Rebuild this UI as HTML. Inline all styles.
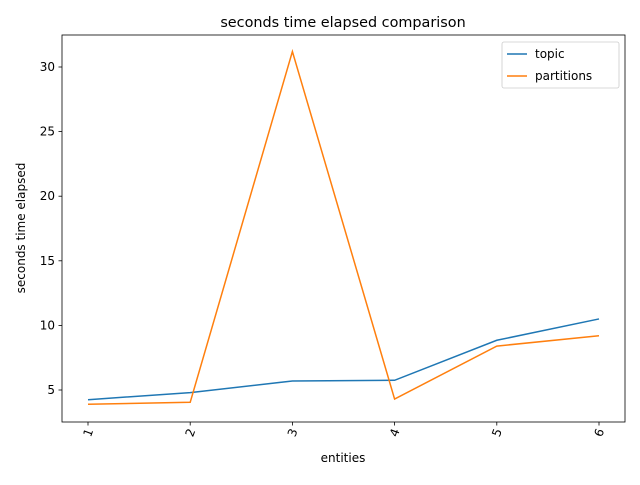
<!DOCTYPE html>
<html><head><meta charset="utf-8"><style>
body{margin:0;background:#fff}
svg text{font-family:"DejaVu Sans","Liberation Sans",sans-serif;fill:#000}
</style></head><body>
<svg width="640" height="480" viewBox="0 0 640 480">
<rect x="0" y="0" width="640" height="480" fill="#fff"/>
<text x="343" y="27" font-size="14.4" text-anchor="middle">seconds time elapsed comparison</text>
<g id="grid"></g>
<g id="series"></g>
<rect x="62" y="35" width="563" height="387" fill="none" stroke="#000" stroke-width="0.8"/>
<g id="axes"></g>
<text x="343" y="462" font-size="12" text-anchor="middle">entities</text>
<text transform="translate(25,228) rotate(-90)" font-size="12" text-anchor="middle">seconds time elapsed</text>
<g>
<rect x="502" y="42" width="117" height="46" rx="2" fill="#fff" fill-opacity="0.8" stroke="#ccc" stroke-width="0.8"/>
<line x1="507" y1="54" x2="527" y2="54" stroke="#1f77b4" stroke-width="1.5"/>
<text x="535" y="58" font-size="12">topic</text>
<line x1="507" y1="76" x2="527" y2="76" stroke="#ff7f0e" stroke-width="1.5"/>
<text x="535" y="80" font-size="12">partitions</text>
</g>
</svg>
<script>
const categories=[1,2,3,4,5,6];
const topicValues=[4.25,4.8,5.7,5.75,8.85,10.5];
const partitionValues=[3.9,4.05,31.2,4.3,8.4,9.2];
const yTicks=[5,10,15,20,25,30];
const NS="http://www.w3.org/2000/svg";
function xs(c){return 88+(c-1)*102.2;}
function ys(v){return 390-(v-5)*12.92;}
const axes=document.getElementById('axes');
function mk(t,a,p){const e=document.createElementNS(NS,t);for(const k in a)e.setAttribute(k,a[k]);p.appendChild(e);return e;}
yTicks.forEach(v=>{
 const l=mk('line',{x1:58.5,x2:62,y1:ys(v),y2:ys(v),stroke:'#000','stroke-width':0.8},axes);
 
 
 const t=mk('text',{x:55,y:ys(v)+4,'font-size':12,'text-anchor':'end'},axes);
 
 
 t.textContent=v;
});
categories.forEach(c=>{
 const l=mk('line',{x1:xs(c),x2:xs(c),y1:422,y2:425.5,stroke:'#000','stroke-width':0.8},axes);
 
 
 const t=mk('text',{transform:`translate(${xs(c)+4},${434}) rotate(-70)`,'font-size':12,'text-anchor':'middle'},axes);
 
 
 t.textContent=c;
});
const ser=document.getElementById('series');
[[topicValues,'#1f77b4','line-topic'],[partitionValues,'#ff7f0e','line-partitions']].forEach(([vals,col,name])=>{
 const p=mk('polyline',{points:vals.map((v,i)=>xs(categories[i])+','+ys(v)).join(' '),fill:'none',stroke:col,'stroke-width':1.5},ser);
 
 
});
</script>
</body></html>
